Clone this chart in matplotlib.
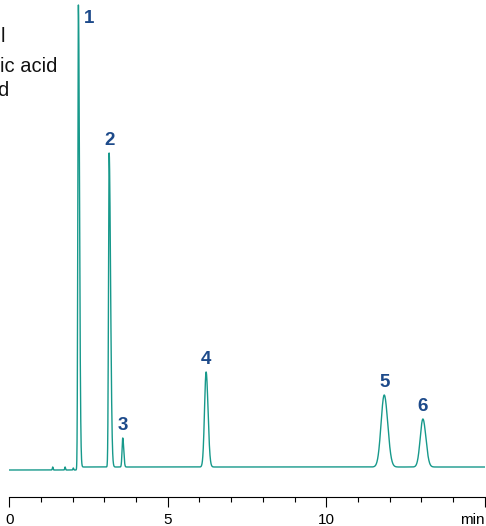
import numpy as np
import matplotlib.pyplot as plt

plt.rcParams['font.family'] = ['Liberation Sans', 'DejaVu Sans']

# peaks (time in min, height in detector units)
peak_labels = ['1', '2', '3', '4', '5', '6']
peak_times = [2.18, 3.15, 3.58, 6.21, 11.83, 13.05]
peak_heights = [462, 314, 29, 95, 72, 48]
sigma_left = [0.018, 0.02, 0.022, 0.05, 0.10, 0.085]
sigma_right = [0.035, 0.045, 0.03, 0.06, 0.11, 0.095]

# tiny blips before the first peak
blip_times = [1.37, 1.76, 2.02]
blip_heights = [3, 3, 2]

# baseline level before / after the solvent front
base_before = -3
base_after = 0
base_step_time = 2.15

legend_lines = ['l', 'ic acid', 'd']
legend_x = [1, 0, -3]
legend_y = [42, 71.5, 96]

line_color = '#17998b'
label_color = '#1d4a8a'

t = np.linspace(0, 15, 6001)
y = np.where(t < base_step_time, base_before, base_after).astype(float)
for rt, h, sl, sr in zip(peak_times, peak_heights, sigma_left, sigma_right):
    s = np.where(t < rt, sl, sr)
    y += h * np.exp(-0.5 * ((t - rt) / s) ** 2)
for rt, h in zip(blip_times, blip_heights):
    y += h * np.exp(-0.5 * ((t - rt) / 0.012) ** 2)

fig = plt.figure(figsize=(4.86, 5.26), dpi=100)
ax = fig.add_axes([9.3 / 486, 29 / 526, 475.4 / 486, 497 / 526])
ax.plot(t, y, color=line_color, linewidth=1.0)
ax.set_xlim(0, 15)
ax.set_ylim(-30, 467)

# peak numbers
for lab, rt, h in zip(peak_labels, peak_times, peak_heights):
    if h > 440:
        ax.text(rt + 0.33, 444, lab, color=label_color, fontsize=13.5,
                fontweight='bold', ha='center', va='baseline')
    else:
        ax.annotate(lab, (rt, h), xytext=(0, 5.5), textcoords='offset points',
                    color=label_color, fontsize=13.5, fontweight='bold',
                    ha='center', va='baseline')

for s in ['top', 'right', 'left']:
    ax.spines[s].set_visible(False)
ax.spines['bottom'].set_linewidth(0.8)
ax.set_yticks([])
ax.set_xticks([0, 5, 10, 15])
ax.set_xticklabels(['0', '5', '10', 'min'])
ax.set_xticks(range(16), minor=True)
ax.tick_params(axis='x', which='major', length=7.2, width=0.8, pad=4,
               labelsize=11)
ax.tick_params(axis='x', which='minor', length=3.6, width=0.8)
for lbl in ax.get_xticklabels():
    if lbl.get_text() == 'min':
        lbl.set_horizontalalignment('right')
        lbl.set_x(15)

for txt, px, py in zip(legend_lines, legend_x, legend_y):
    fig.text(px / 486, 1 - py / 526, txt, fontsize=14.5, color='#111111',
             ha='left', va='baseline')

fig.savefig('out.png', dpi=100)
